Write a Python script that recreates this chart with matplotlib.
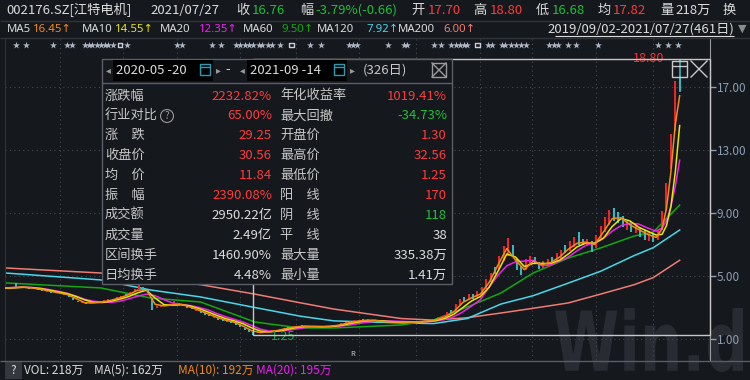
"""
plot.py
-------
Wind-style daily K-line screenshot for 002176.SZ: candles, six moving averages,
event stars and the interval-statistics popup. Values read off the screenshot.
Day index 0 = 2019/09/02, 460 = 2021/07/27.
"""
import matplotlib
matplotlib.use("Agg")
import matplotlib.pyplot as plt
from matplotlib.patches import Rectangle, PathPatch
from matplotlib.textpath import TextPath
from matplotlib.font_manager import FontProperties
from matplotlib.transforms import Affine2D, blended_transform_factory

plt.rcParams['font.family'] = ['Noto Sans CJK SC', 'DejaVu Sans']

# ---------------- data ----------------
bar_days = list(range(1, 461, 3))
bar_open = [4.20, 4.32, 4.58, 4.26, 4.31, 4.28, 4.17, 4.20, 4.14, 4.01,
            4.03, 3.97, 3.85, 3.87, 3.80, 3.62, 3.44, 3.26, 3.33, 3.25,
            3.28, 3.38, 3.35, 3.41, 3.56, 3.55, 3.65, 3.86, 3.86, 4.00,
            4.15, 4.30, 4.12, 3.62, 2.96, 3.05, 3.19, 3.12, 3.16, 3.26,
            3.18, 3.08, 2.99, 2.77, 2.78, 2.66, 2.55, 2.34, 2.33, 2.24,
            2.10, 2.10, 2.05, 1.88, 1.72, 1.57, 1.44, 1.35, 1.40, 1.49,
            1.46, 1.50, 1.56, 1.62, 1.75, 1.73, 1.78, 1.86, 1.83, 1.75,
            1.80, 1.75, 1.76, 1.84, 1.80, 1.84, 1.90, 1.98, 2.12, 2.08,
            2.12, 2.24, 2.17, 2.23, 2.17, 2.07, 2.12, 2.05, 2.11, 2.06,
            2.11, 2.05, 2.12, 2.05, 2.07, 2.10, 2.21, 2.16, 2.22, 2.30,
            2.42, 2.85, 2.80, 3.10, 3.65, 3.45, 3.85, 3.65, 3.85, 4.15,
            4.60, 5.60, 5.45, 5.95, 6.30, 6.95, 6.10, 5.65, 5.40, 5.70,
            6.20, 5.90, 5.50, 5.60, 6.20, 5.90, 6.10, 6.95, 6.60, 6.85,
            7.80, 7.35, 6.90, 7.20, 6.80, 7.30, 7.80, 8.25, 9.30, 9.05,
            8.80, 7.95, 8.40, 7.75, 8.05, 7.95, 7.20, 7.65, 7.30, 7.90,
            9.10, 11.80, 14.20, 17.70]
bar_close = [4.28, 4.22, 4.30, 4.34, 4.24, 4.20, 4.24, 4.12, 4.06, 4.08,
             3.94, 3.90, 3.92, 3.78, 3.68, 3.48, 3.33, 3.34, 3.25, 3.36,
             3.35, 3.30, 3.45, 3.52, 3.47, 3.68, 3.76, 3.77, 4.00, 4.18,
             4.52, 4.05, 3.95, 2.86, 3.08, 3.16, 3.10, 3.22, 3.40, 3.15,
             3.07, 2.98, 2.88, 2.86, 2.65, 2.55, 2.44, 2.42, 2.22, 2.15,
             2.17, 2.00, 1.90, 1.74, 1.58, 1.44, 1.27, 1.45, 1.47, 1.43,
             1.54, 1.57, 1.65, 1.70, 1.69, 1.80, 1.85, 1.79, 1.77, 1.81,
             1.74, 1.80, 1.82, 1.78, 1.87, 1.92, 2.00, 2.06, 2.04, 2.18,
             2.22, 2.15, 2.26, 2.14, 2.10, 2.14, 2.05, 2.12, 2.05, 2.12,
             2.05, 2.11, 2.05, 2.12, 2.14, 2.18, 2.13, 2.28, 2.40, 2.48,
             2.70, 2.62, 3.20, 3.55, 3.35, 3.85, 3.55, 4.05, 4.30, 4.80,
             5.20, 5.10, 6.30, 6.90, 7.40, 6.20, 5.40, 5.05, 6.05, 6.25,
             5.75, 5.45, 5.95, 6.10, 5.80, 6.45, 6.65, 6.45, 7.25, 7.45,
             6.95, 6.95, 7.35, 6.55, 7.60, 8.20, 8.75, 9.20, 8.50, 8.35,
             8.10, 8.50, 7.80, 8.30, 7.50, 7.30, 7.80, 7.15, 7.95, 9.10,
             10.90, 14.00, 17.40, 16.76]
last_high, last_low = 18.80, 16.68
low_day, low_price = 169, 1.25

fast_days = list(range(0, 445, 6)) + [448, 451, 454, 457, 460]
ma5 = [4.24, 4.27, 4.30, 4.24, 4.15, 4.04, 3.93, 3.82, 3.57, 3.30,
       3.29, 3.35, 3.46, 3.62, 3.82, 4.10, 4.13, 3.20, 3.10, 3.17,
       3.19, 3.03, 2.82, 2.60, 2.38, 2.20, 2.06, 1.82, 1.52, 1.41,
       1.46, 1.55, 1.67, 1.77, 1.82, 1.78, 1.77, 1.81, 1.89, 2.03,
       2.13, 2.19, 2.18, 2.10, 2.08, 2.08, 2.08, 2.09, 2.14, 2.23,
       2.40, 2.75, 3.32, 3.62, 3.85, 4.60, 5.70, 6.75, 6.00, 5.40,
       5.95, 5.72, 5.85, 6.20, 6.70, 7.08, 7.15, 7.00, 7.80, 8.65,
       8.70, 8.25, 7.95, 7.65, 7.45, 8.00, 9.30, 11.60, 14.60, 16.45]
ma10 = [4.22, 4.25, 4.28, 4.26, 4.20, 4.10, 3.99, 3.88, 3.70, 3.48,
        3.33, 3.32, 3.40, 3.53, 3.70, 3.93, 4.10, 3.60, 3.18, 3.14,
        3.18, 3.10, 2.93, 2.72, 2.50, 2.30, 2.15, 1.97, 1.70, 1.50,
        1.45, 1.51, 1.61, 1.72, 1.79, 1.80, 1.78, 1.79, 1.85, 1.96,
        2.07, 2.16, 2.18, 2.14, 2.10, 2.08, 2.08, 2.08, 2.11, 2.18,
        2.32, 2.58, 3.00, 3.42, 3.70, 4.30, 5.30, 6.40, 6.20, 5.60,
        5.80, 5.80, 5.80, 6.00, 6.40, 6.85, 7.10, 7.08, 7.40, 8.15,
        8.65, 8.50, 8.10, 7.85, 7.60, 7.65, 8.20, 9.40, 11.60, 14.55]
ma20 = [4.24, 4.27, 4.29, 4.27, 4.22, 4.13, 4.03, 3.90, 3.72, 3.52,
        3.40, 3.34, 3.33, 3.40, 3.55, 3.72, 3.85, 3.75, 3.50, 3.28,
        3.20, 3.12, 3.00, 2.85, 2.62, 2.42, 2.25, 2.08, 1.85, 1.62,
        1.50, 1.50, 1.55, 1.63, 1.72, 1.78, 1.80, 1.80, 1.82, 1.88,
        1.97, 2.06, 2.13, 2.15, 2.14, 2.12, 2.10, 2.09, 2.10, 2.15,
        2.25, 2.42, 2.72, 3.10, 3.50, 4.30, 5.05, 5.65, 5.90, 5.95,
        6.00, 5.65, 5.70, 5.95, 6.21, 6.60, 6.95, 7.10, 7.40, 7.85,
        8.20, 8.35, 8.30, 8.05, 7.85, 8.05, 8.50, 9.40, 10.70, 12.35]

slow_days = [0, 65, 99, 133, 170, 201, 224, 270, 292, 315, 338, 360, 384, 406, 429, 442, 460]
ma60 = [4.56, 4.24, 3.60, 3.35, 2.08, 1.70, 1.70, 1.89, 2.21, 3.03, 3.92, 5.19, 6.14, 6.78, 7.54, 7.79, 9.50]
ma120 = [5.19, 4.75, 4.11, 3.67, 3.00, 2.45, 2.15, 2.02, 1.98, 2.30, 3.22, 3.75, 4.55, 5.30, 6.30, 6.80, 7.92]
ma200 = [5.51, 5.19, 4.85, 4.45, 3.85, 3.30, 2.90, 2.30, 2.20, 2.35, 2.65, 2.95, 3.29, 3.85, 4.45, 4.90, 6.00]

price_ticks = [1, 5, 9, 13, 17]
month_days = [37, 80, 117, 160, 198, 241, 280, 324, 359, 403, 442]
star_days = [7, 14, 32, 42, 45, 54, 57, 59, 62, 65, 68, 70, 73, 83, 117, 120,
             141, 147, 157, 160, 163, 166, 169, 173, 175, 179, 182, 187, 208, 215,
             234, 237, 240, 261, 272, 274, 292, 297, 304, 307, 310, 313, 315, 329,
             332, 339, 341, 345, 348, 352, 355, 371, 374, 377, 384, 389, 404, 445,
             452, 459]
flag_days = [78, 195, 322]

# ---------------- texts ----------------
WHITE, RED, GREEN = '#dcdcdc', '#ff3b3b', '#1fbf3a'
C5, C10, C20, C60, C120, C200 = '#f28c18', '#e8e800', '#f020f0', '#12a812', '#48d8ea', '#f07c74'

header = [(6, '002176.SZ[江特电机]', WHITE), (150, '2021/07/27', WHITE),
          (236, '收', WHITE), (252, '16.76', GREEN), (300, '幅', WHITE),
          (315, '-3.79%(-0.66)', GREEN), (411, '开', WHITE), (428, '17.70', RED),
          (473, '高', WHITE), (490, '18.80', RED), (536, '低', WHITE),
          (552, '16.68', GREEN), (598, '均', WHITE), (613, '17.82', RED),
          (660, '量', WHITE), (675, '218万', WHITE), (723, '换', WHITE)]
ma_legend = [(7, 'MA5', WHITE), (33, '16.45↑', C5), (82, 'MA10', WHITE), (115, '14.55↑', C10),
             (160, 'MA20', WHITE), (199, '12.35↑', C20), (243, 'MA60', WHITE), (281, '9.50↑', C60),
             (317, 'MA120', WHITE), (366, '7.92↑', C120), (398, 'MA200', WHITE), (443, '6.00↑', C200)]
stats_rows = [('涨跌幅', '2232.82%', RED, '年化收益率', '1019.41%', RED),
              ('行业对比', '65.00%', RED, '最大回撤', '-34.73%', GREEN),
              ('涨\u3000跌', '29.25', RED, '开盘价', '1.30', RED),
              ('收盘价', '30.56', RED, '最高价', '32.56', RED),
              ('均\u3000价', '11.84', RED, '最低价', '1.25', RED),
              ('振\u3000幅', '2390.08%', RED, '阳\u3000线', '170', RED),
              ('成交额', '2950.22亿', WHITE, '阴\u3000线', '118', GREEN),
              ('成交量', '2.49亿', WHITE, '平\u3000线', '38', WHITE),
              ('区间换手', '1460.90%', WHITE, '最大量', '335.38万', WHITE),
              ('日均换手', '4.48%', WHITE, '最小量', '1.41万', WHITE)]
vol_legend = [(24, 'VOL: 218万', WHITE), (94, 'MA(5): 162万', WHITE),
              (178, 'MA(10): 192万', C5), (256, 'MA(20): 195万', C20)]

BG = '#15181d'
LINE = '#30333a'

fig = plt.figure(figsize=(7.5, 3.8), dpi=100, facecolor=BG)
ax = fig.add_axes([5 / 750, 20 / 380, 705 / 750, 322 / 380])
ax.set_facecolor(BG)

# overlay in pixel units for the screen furniture
ov = fig.add_axes([0, 0, 1, 1], zorder=5)
ov.set_xlim(0, 750); ov.set_ylim(380, 0); ov.axis('off')

# slow averages, candles, fast averages
for days, vals, col in [(slow_days, ma200, C200), (slow_days, ma120, C120), (slow_days, ma60, C60)]:
    ax.plot(days, vals, color=col, lw=1.1, zorder=2)
lo = [min(o, c) for o, c in zip(bar_open, bar_close)]
hi = [max(o, c) for o, c in zip(bar_open, bar_close)]
cols = ['#e8262c' if c >= o else '#3bb4bc' for o, c in zip(bar_open, bar_close)]
ax.vlines(bar_days, lo, hi, colors=cols, lw=1.5, zorder=2.5)
ax.vlines(bar_days[-1], last_low, last_high, colors=cols[-1], lw=1.2, zorder=2.5)
for vals, col in [(ma20, C20), (ma10, C10), (ma5, C5)]:
    ax.plot(fast_days, vals, color=col, lw=1.1, zorder=3)

# selection rectangle from the interval low to the last high
ax.add_patch(Rectangle((low_day, low_price), 480.7 - low_day, last_high - low_price,
                       fill=False, ec='#c8c8c8', lw=1, zorder=4, clip_on=False))
ax.annotate(f'{low_price:.2f}', xy=(low_day, low_price), xytext=(13, -1),
            textcoords='offset points', color='#22a844', fontsize=9, va='center')
ax.annotate(f'{last_high:.2f}', xy=(bar_days[-1], last_high), xytext=(-11, 0),
            textcoords='offset points', color='#ff3030', fontsize=9, va='center', ha='right')

# event markers along the top
mk = blended_transform_factory(ax.transData, ov.transData)
ax.scatter(star_days, [45] * len(star_days), transform=mk, marker='*', s=28,
           color='#aeb6c4', lw=0, zorder=4, clip_on=False)
ax.scatter(flag_days, [45] * len(flag_days), transform=mk, marker='s', s=12,
           facecolor='none', edgecolor='#c8d0dc', lw=1, zorder=4, clip_on=False)

ax.set_xlim(-0.5, 480.7)
ax.set_ylim(-0.333, 20.111)
ax.yaxis.tick_right()
ax.set_yticks(price_ticks, [f'{v:.2f}' for v in price_ticks])
ax.set_xticks(month_days)
ax.tick_params(axis='x', length=0, labelbottom=False)
ax.tick_params(axis='y', length=4, width=1, pad=1, color='#8d9bb3', labelcolor='#8d9bb3', labelsize=8.5)
ax.grid(True, ls=(0, (1, 3)), color='#454951', lw=0.8)
for s in ['top', 'bottom']:
    ax.spines[s].set_visible(False)
ax.spines['left'].set_color(LINE)
ax.spines['right'].set_color('#9a9a9a')

# watermark behind the lines
tp = TextPath((0, 0), 'Win.d', size=1, prop=FontProperties(family='DejaVu Sans', weight='bold'))
ext = tp.get_extents()
tr = Affine2D().translate(-ext.x0, -ext.y0).scale(188 / ext.width, -64 / ext.height).translate(555, 372)
wm = PathPatch(tp, transform=tr + ov.transData, fc='#282b31', ec='none', zorder=0.5)
wm.set_clip_on(False)
ax.add_artist(wm)

# header rows
ov.hlines([20.5, 38], 0, 750, color=LINE, lw=1)
ov.hlines(361, 0, 750, color='#5a5d63', lw=1)
for x, s, c in header:
    ov.text(x, 10.5, s, color=c, fontsize=9.5, va='center')
for x, s, c in ma_legend:
    ov.text(x, 29, s, color=c, fontsize=8.2, va='center', family=['Noto Sans', 'DejaVu Sans'])
ov.text(734, 29, '2019/09/02-2021/07/27(461日)', color=WHITE, fontsize=9.5, va='center', ha='right')
ov.hlines(36, 555, 734, color=WHITE, lw=0.8)
ov.text(742, 29, '▼', color='#8a8a8a', fontsize=8, va='center', ha='center', family='DejaVu Sans')

# interval statistics popup
ov.add_patch(Rectangle((102, 59), 350, 225, fc=BG, ec='#5c5f66', lw=1))
ov.hlines(83, 102, 452, color='#5c5f66', lw=1)
for bx, txt in [(113, '2020-05 -20'), (247, '2021-09 -14')]:
    ov.text(bx - 5, 70, '◂', color='#9a9a9a', fontsize=7, va='center', ha='center', family='DejaVu Sans')
    ov.add_patch(Rectangle((bx, 60), 100, 21, fc='#000000', ec='none'))
    ov.text(bx + 3, 70.5, txt, color=WHITE, fontsize=9.5, va='center')
    ov.add_patch(Rectangle((bx + 87, 64), 10, 11, fill=False, ec='#2a9bb0', lw=1))
    ov.hlines(67, bx + 87, bx + 97, color='#2a9bb0', lw=1)
    ov.text(bx + 105, 70, '▸', color='#9a9a9a', fontsize=7, va='center', ha='center', family='DejaVu Sans')
ov.text(228, 70, '-', color=WHITE, fontsize=9.5, va='center', ha='center')
ov.text(363, 70.5, '(326日)', color='#c8c8c8', fontsize=9.5, va='center')
ov.add_patch(Rectangle((432, 63), 14, 14, fill=False, ec='#9a9a9a', lw=1))
ov.plot([432, 446], [63, 77], color='#9a9a9a', lw=1)
ov.plot([432, 446], [77, 63], color='#9a9a9a', lw=1)
for i, (l1, v1, c1, l2, v2, c2) in enumerate(stats_rows):
    y = 96 + 19.9 * i
    ov.text(105, y, l1, color='#c8c8c8', fontsize=9.5, va='center')
    ov.text(272, y, v1, color=c1, fontsize=9.5, va='center', ha='right')
    ov.text(280, y, l2, color='#c8c8c8', fontsize=9.5, va='center')
    ov.text(447, y, v2, color=c2, fontsize=9.5, va='center', ha='right')
ov.text(167, 116, '?', color='#9a9a9a', fontsize=7, va='center', ha='center',
        bbox=dict(boxstyle='circle,pad=0.15', fc='none', ec='#9a9a9a', lw=0.8))

# handle of the selection box
ov.add_patch(Rectangle((672, 61), 15, 16, fill=False, ec='#c8c8c8', lw=1))
ov.hlines(65.5, 672, 687, color='#c8c8c8', lw=1)
ov.plot([691, 707], [61, 77], color='#c8c8c8', lw=1)
ov.plot([691, 707], [77, 61], color='#c8c8c8', lw=1)

# volume legend row
ov.add_patch(Rectangle((5, 362), 17, 17, fc='#34373e', ec='none'))
ov.text(13.5, 370.5, '?', color=WHITE, fontsize=8.5, va='center', ha='center')
for x, s, c in vol_legend:
    ov.text(x, 370, s, color=c, fontsize=8.5, va='center')
ov.text(353, 354, 'R', color='#c8c8c8', fontsize=5.5, va='center', ha='center')

fig.savefig('out.png', dpi=100, facecolor=BG)
